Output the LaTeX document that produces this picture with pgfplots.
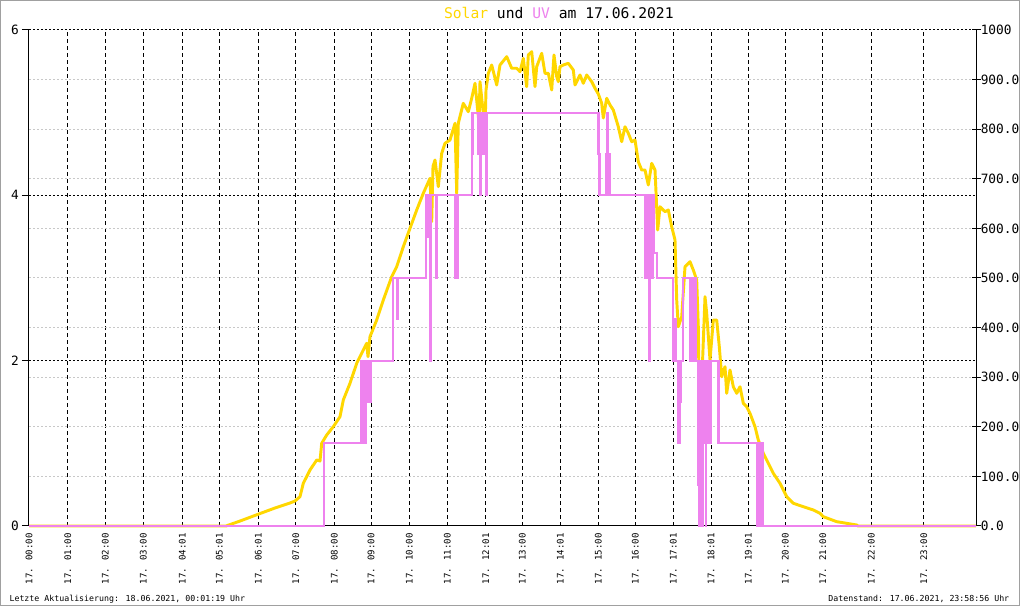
\documentclass[border=0pt]{standalone}
\usepackage{fontspec}
\setmainfont{DejaVu Sans Mono}
\usepackage{pgfplots}
\pgfplotsset{compat=1.18}
\usepackage{pgfplotstable}
\definecolor{solar}{HTML}{FFD700}
\definecolor{uv}{HTML}{EE82EE}
\definecolor{gridgray}{HTML}{C8C8C8}
\definecolor{framegray}{HTML}{A0A0A0}

\pgfplotstableread{
x v
29 0
226 0
240 10
258 23.6
275 36.3
290 46.4
295 50.4
300 59.1
303.3 86.1
306 96.8
310 112.9
316.7 133.1
320 131.0
321.7 166.7
326.7 183.5
333.3 200.2
340 220.4
343.3 254.0
350 287.7
356.7 328.0
361.7 348.2
366.7 368.3
368 341.3
370 381.7
376.7 415.3
383.3 455.6
391.7 502.6
396.7 522.8
403.3 563.1
410 600.2
416.7 637.1
423.3 670.8
430 701.0
431.7 613.5
433 725.2
435 737.9
438.3 684.1
441.7 751.4
445 771.6
450 778.2
455 811.9
456.7 670.8
458.3 811.9
463.3 852.2
468.3 835.3
471.7 862.3
475 892.5
479 812.5
480 895.8
485 798.4
486 879.0
488.3 912.7
491.7 929.4
496.7 889.1
500 929.4
506.7 946.2
511.7 922.8
516.7 922.8
520 915.9
523.3 942.9
526.7 885.7
528.3 949.6
531.7 956.3
535 885.7
536.7 926.0
541.7 953.0
545 912.7
548.3 912.7
551.7 879.0
554 949.6
556.7 905.8
558.3 895.8
560 926.0
563.3 929.4
568.3 932.8
573.3 919.4
575 889.1
580 909.3
583.3 892.5
586.7 909.3
591.7 895.8
595 882.5
598.3 871.0
601.7 852.2
603.3 822.6
606.7 862.3
610 848.8
613.3 838.7
618.3 805.0
621.7 774.8
625 805.0
628.3 791.7
631.7 774.8
635 778.2
638.3 734.5
641.7 717.7
645 717.7
648.3 687.5
651.7 731.1
655 717.7
657.7 596.8
660 643.7
665 633.7
668.3 637.1
671.7 603.4
675 576.6
676.7 455.6
678.3 401.8
681.7 422.0
685 522.8
690 532.9
693.3 516.1
696.7 496.0
698.3 401.8
700 139.7
701.7 287.7
705 462.3
706.7 428.8
710 334.7
713.3 415.3
716.7 415.3
719.3 361.5
721.7 301.0
725 321.2
726.7 267.5
730 314.5
733.3 280.8
736.7 267.5
740 280.8
743.3 247.4
746.7 240.5
750 227.2
755 200.2
758.3 173.4
763.3 146.6
768.3 126.4
773.3 106.2
780 86.1
786.7 59.1
793.3 45.8
803.3 38.9
813.3 32.3
820 25.6
823.3 18.8
836.7 8.7
846.7 5.4
856.7 2.0
858 0
976 0
}\solardata

\pgfplotstableread{
x u
29 0
324.3 0
324.3 1
361 1
361 2
362 2
362 1
363.5 1
363.5 2
365 2
365 1
365.8 1
365.8 2
368.3 2
368.3 1.5
369.3 1.5
369.3 2
370 2
370 1.5
370.7 1.5
370.7 2
393 2
393 3
396.8 3
396.8 2.5
397.6 2.5
397.6 3
426 3
426 4
427.5 4
427.5 3.5
428.2 3.5
428.2 4
429.8 4
429.8 2
430.4 2
430.4 4
436.4 4
436.4 3
437.1 3
437.1 4
455 4
455 3
456 3
456 4
456.6 4
456.6 3
457.4 3
457.4 4
471.7 4
471.7 4.5
472.4 4.5
472.4 5
478.2 5
478.2 4.5
479.2 4.5
479.2 5
479.8 5
479.8 4
480.4 4
480.4 5
481 5
481 4.5
482 4.5
482 5
482.7 5
482.7 4.5
483.4 4.5
483.4 5
486.4 5
486.4 4
487.1 4
487.1 5
598.6 5
598.6 4.5
599.6 4.5
599.6 4
606.3 4
606.3 4.5
607.2 4.5
607.2 5
607.9 5
607.9 4
608.6 4
608.6 4.5
609.4 4.5
609.4 4
645 4
645 3
646 3
646 4
647 4
647 3
648 3
648 4
649.6 4
649.6 2
650.3 2
650.3 3
651.2 3
651.2 4
652.3 4
652.3 3
653.3 3
653.3 4
654 4
654 3.3
656.7 3.3
656.7 3
673.3 3
673.3 2
675 2
675 2.5
675.8 2.5
675.8 2
678.3 2
678.3 1
679.4 1
679.4 2
680.3 2
680.3 1.5
681.1 1.5
681.1 2
683.3 2
683.3 3
690 3
690 2
691 2
691 3
692 3
692 2
693 2
693 3
694 3
694 2
695 2
695 3
696.2 3
696.2 2
698.3 2
698.3 0.5
699.3 0.5
699.3 0
700.5 0
700.5 2
702.4 2
702.4 0
703.2 0
703.2 1
704 1
704 2
705 2
705 1
705.7 1
705.7 0
706.3 0
706.3 1
707.2 1
707.2 2
708.2 2
708.2 1
709.2 1
709.2 2
710.2 2
710.2 1
711.2 1
711.2 2
718.6 2
718.6 1
756.7 1
756.7 0.5
757.3 0.5
757.3 0
758.2 0
758.2 1
759.1 1
759.1 0
760 0
760 1
760.9 1
760.9 0
761.8 0
761.8 1
762.8 1
762.8 0
976 0
}\uvdata

\begin{document}
\begin{tikzpicture}
\useasboundingbox (0,0) rectangle (765pt,454.5pt);
\clip (0,0) rectangle (765pt,454.5pt);
\fill[white] (0,0) rectangle (765pt,454.5pt);
\pgfplotsset{base/.style={scale only axis, width=710.25pt, height=372pt,
  at={(21.75pt,60pt)}, anchor=south west, xmin=29, xmax=976, clip=false}}

% grid + UV axis
\begin{axis}[base, ymin=0, ymax=6,
  axis x line*=bottom, axis y line*=left,
  axis line style={-, line width=0.75pt, black},
  xtick={29,67.7,105.3,143.3,182.3,219.3,258.3,295.7,334.3,371,409.3,447.3,485.7,522.3,560.3,598.3,635.3,673.3,711,748.3,785.3,822.7,871.3,923.7},
  xticklabels={17. 00:00,17. 01:00,17. 02:00,17. 03:00,17. 04:01,17. 05:01,17. 06:01,17. 07:00,17. 08:00,17. 09:00,17. 10:00,17. 11:00,17. 12:01,17. 13:00,17. 14:01,17. 15:00,17. 16:00,17. 17:01,17. 18:01,17. 19:01,17. 20:00,17. 21:00,17. 22:00,17. 23:00},
  xmajorgrids, ymajorgrids,
  major x grid style={black, line width=0.75pt, dash pattern=on 3pt off 2.25pt},
  major y grid style={black, line width=0.75pt, dash pattern=on 1.5pt off 1.5pt},
  ytick={0,2,4,6}, yticklabels={0,2,4,6},
  x tick style={draw=none},
  y tick style={black, line width=0.75pt},
  tick align=outside, major tick length=5.25pt,
  xticklabel style={rotate=90, anchor=east, inner sep=0pt, font=\fontsize{6.8}{8}\selectfont},
  xticklabel shift=0pt,
  yticklabel style={inner sep=0pt, anchor=east, xshift=-2.25pt, font=\fontsize{9.6}{11}\selectfont},
]
\end{axis}

% solar axis
\begin{axis}[base, ymin=0, ymax=1000,
  axis x line=none, axis y line*=right,
  axis line style={-, line width=0.75pt, black},
  ytick={100,200,...,900},
  yticklabels={100.0,200.0,300.0,400.0,500.0,600.0,700.0,800.0,900.0},
  extra y ticks={0,1000}, extra y tick labels={0.0,1000},
  extra y tick style={grid=none},
  ymajorgrids,
  major y grid style={gridgray, line width=0.75pt, dash pattern=on 1.5pt off 1.5pt},
  tick align=center, major tick length=6.75pt,
  y tick style={black, line width=0.75pt},
  yticklabel style={inner sep=0pt, anchor=west, font=\fontsize{9.6}{11}\selectfont},
]
\addplot[solar, line width=2.2pt, line join=round] table[x=x,y=v]{\solardata};
\end{axis}

% UV plot on top
\begin{axis}[base, ymin=0, ymax=6, hide axis]
\addplot[uv, line width=1.7pt, line join=miter] table[x=x,y=u]{\uvdata};
\end{axis}

\begin{scope}[x=0.75pt,y=0.75pt]
\node[anchor=base, inner sep=0pt, font=\fontsize{11}{13}\selectfont] at (558.8,587.7)
  {\textcolor{solar}{Solar} und \textcolor{uv}{UV} am 17.06.2021};
\node[anchor=base west, inner sep=0pt, font=\fontsize{6.2}{7}\selectfont] at (9.3,4.5)
  {Letzte Aktualisierung: 18.06.2021, 00:01:19 Uhr};
\node[anchor=base east, inner sep=0pt, font=\fontsize{6.2}{7}\selectfont] at (1009.5,4.5)
  {Datenstand: 17.06.2021, 23:58:56 Uhr};
\draw[framegray, line width=0.75pt] (0.5,0.5) rectangle (1019.5,605.5);
\end{scope}
\end{tikzpicture}
\end{document}
